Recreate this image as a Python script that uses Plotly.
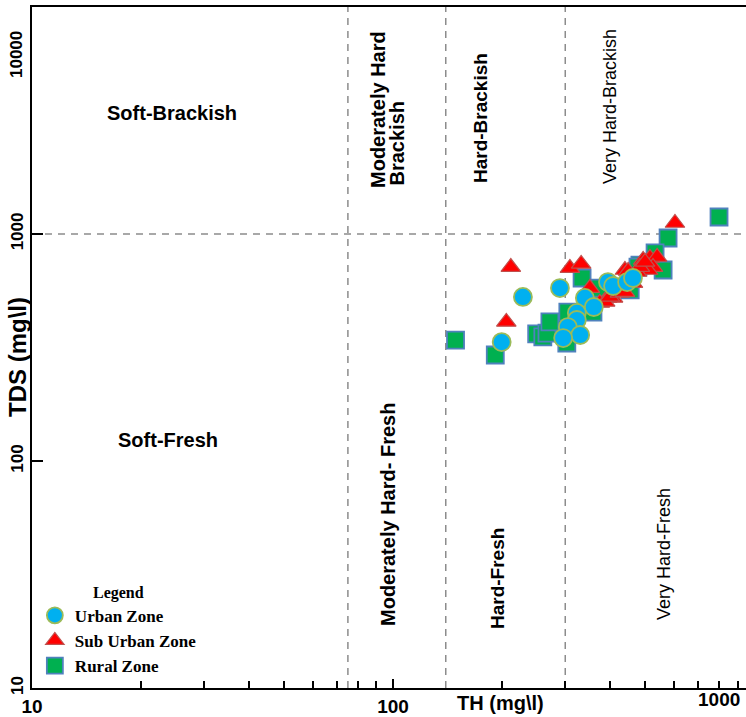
import plotly.graph_objects as go

# ---------------- data ----------------
urban_th = [229, 200, 290, 340, 360, 323, 323, 305, 330, 296, 394, 407, 445, 462]
urban_tds = [528, 334, 578, 523, 477, 449, 418, 389, 359, 348, 614, 590, 614, 640]

sub_th = [212, 206, 309, 332, 351, 604, 439, 493, 515, 539, 525, 509, 474, 425,
          392, 407, 374, 387, 483, 499, 448, 399, 425, 462, 439]
sub_tds = [715, 410, 708, 738, 578, 1118, 694, 768, 784, 792, 715, 694, 680, 584,
           523, 523, 497, 502, 715, 753, 687, 528, 550, 608, 555]

rural_th = [149, 192, 250, 260, 281, 309, 303, 334, 370, 374, 578, 800, 560, 483,
            477, 454, 305, 267, 272, 358, 532]
rural_tds = [341, 293, 363, 352, 393, 449, 331, 640, 555, 578, 960, 1188, 694, 730,
             715, 567, 453, 366, 410, 453, 825]

th_bounds = [75, 140, 300]
tds_bound = 1000
x_range_log = [1, 2.9778]
y_range_log = [1, 4]

x_tickvals = [10, 100]
x_ticktext = ["10", "100"]
x_minor = [20, 30, 40, 50, 60, 70, 80, 90, 200, 300, 400, 500, 600, 700, 800, 900]
y_tickvals = [10, 100, 1000, 10000]
y_ticktext = ["10", "100", "1000", ""]

SANS = "Liberation Sans, Arial, sans-serif"
SERIF = "Liberation Serif, Times New Roman, serif"

fig = go.Figure()

# classification boundaries
xmax = 10 ** x_range_log[1]
ymin, ymax = 10 ** y_range_log[0], 10 ** y_range_log[1]
bx, by = [], []
for b in th_bounds:
    bx += [b, b, None]
    by += [ymin, ymax, None]
bx += [10 ** x_range_log[0], xmax]
by += [tds_bound, tds_bound]
fig.add_trace(go.Scatter(x=bx, y=by, mode="lines", showlegend=False, hoverinfo="skip",
                         line=dict(color="#8c8c8c", width=1.5, dash="7px,6px")))

fig.add_trace(go.Scatter(
    x=rural_th, y=rural_tds, mode="markers", name="Rural Zone",
    legendrank=3, legendgroup="c",
    marker=dict(symbol="square", size=17, color="#00B050",
                line=dict(color="#4F81BD", width=1.8))))
fig.add_trace(go.Scatter(
    x=sub_th, y=sub_tds, mode="markers", name="Sub Urban Zone",
    legendrank=2, legendgroup="b",
    marker=dict(symbol="triangle-up", size=17, color="#FF0000",
                line=dict(color="#C0504D", width=1.2))))
fig.add_trace(go.Scatter(
    x=urban_th, y=urban_tds, mode="markers", name="Urban Zone",
    legendrank=1, legendgroup="a",
    marker=dict(symbol="circle", size=18, color="#00B0F0",
                line=dict(color="#9BBB59", width=1.8))))

fig.update_layout(
    width=746, height=717,
    margin=dict(l=32, r=0, t=7, b=29),
    plot_bgcolor="white", paper_bgcolor="white",
    xaxis=dict(type="log", range=x_range_log, showgrid=False, zeroline=False,
               showline=True, linecolor="black", linewidth=2, mirror=True,
               ticks="inside", ticklen=9, tickwidth=1.5, tickcolor="black",
               tickvals=x_tickvals, ticktext=x_ticktext,
               tickfont=dict(family=SANS, size=19, color="black", weight="bold"),
               minor=dict(tickvals=x_minor, ticks="inside", ticklen=7, tickwidth=1.5,
                          tickcolor="black", showgrid=False)),
    yaxis=dict(type="log", range=y_range_log, showgrid=False, zeroline=False,
               showline=True, linecolor="black", linewidth=2,
               ticks="inside", ticklen=11, tickwidth=2, tickcolor="black",
               tickvals=y_tickvals, ticktext=y_ticktext, tickangle=-90,
               tickfont=dict(family=SANS, size=17, color="black", weight="bold")),
    legend=dict(x=0.004, y=0.163, xanchor="left", yanchor="top",
                bgcolor="rgba(0,0,0,0)", itemsizing="trace", tracegroupgap=0,
                font=dict(family=SERIF, size=17, color="black", weight="bold"),
                title=dict(text="Legend", side="top center",
                           font=dict(family=SERIF, size=16, color="black", weight="bold"))),
    showlegend=True,
)

def px_to_paper(px, py):
    return (px - 32) / 714, (688 - py) / 681

def add_text(text, px, py, size, angle=0, bold=True, align="center", family=SANS,
             xanchor="center", yanchor="middle"):
    x, y = px_to_paper(px, py)
    fig.add_annotation(text=text, x=x, y=y, xref="paper", yref="paper",
                       showarrow=False, textangle=angle, align=align,
                       xanchor=xanchor, yanchor=yanchor,
                       font=dict(family=family, size=size, color="black",
                                 weight="bold" if bold else "normal"))

# region labels
add_text("Soft-Brackish", 172, 113, 20)
add_text("Soft-Fresh", 168, 440, 20)
add_text("Moderately Hard", 378, 110, 20, angle=-90)
add_text("Brackish", 397, 188, 20, angle=-90, yanchor="bottom")
add_text("Hard-Brackish", 480, 118, 19, angle=-90)
add_text("Very Hard-Brackish", 610, 107, 18, angle=-90, bold=False)
add_text("Moderately Hard- Fresh", 388, 515, 20, angle=-90)
add_text("Hard-Fresh", 497, 579, 19, angle=-90)
add_text("Very Hard-Fresh", 664, 554, 18, angle=-90, bold=False)

# axis titles and shifted end labels
add_text("TH (mg\\l)", 500, 703, 20)
add_text("TDS (mg\\l)", 17, 357, 24, angle=-90)
add_text("1000", 719, 700, 19)
add_text("10000", 17, 55, 17, angle=-90)

fig.write_html("out.html")
